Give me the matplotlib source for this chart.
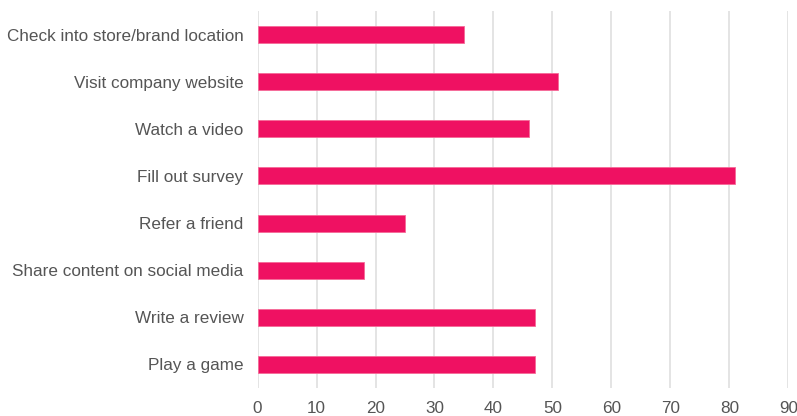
import matplotlib
matplotlib.use("Agg")
import matplotlib.pyplot as plt

categories = ["Check into store/brand location", "Visit company website", "Watch a video",
              "Fill out survey", "Refer a friend", "Share content on social media",
              "Write a review", "Play a game"]
values = [35, 51, 46, 81, 25, 18, 47, 47]
xticks = [0, 10, 20, 30, 40, 50, 60, 70, 80, 90]

plt.rcParams['font.family'] = ['Liberation Sans', 'DejaVu Sans']

fig = plt.figure(figsize=(7.97, 4.16), dpi=100)
ax = fig.add_axes([0.3231, 0.0673, 0.6662, 0.9063])

y = list(range(len(categories)))
ax.barh(y, values, height=0.36, color="#EF1162", edgecolor="#F56A98", linewidth=0.6, zorder=3)
ax.set_ylim(len(categories) - 0.5, -0.5)
ax.set_xlim(0, 90)
ax.set_xticks(xticks)
ax.set_xticklabels([str(t) for t in xticks])
ax.set_yticks(y)
ax.set_yticklabels(categories)
ax.grid(axis="x", color="#E2E2E2", linewidth=1.3, zorder=0)
ax.grid(axis="y", visible=False)
for s in ax.spines.values():
    s.set_visible(False)
ax.tick_params(axis="both", length=0, labelsize=12.3, labelcolor="#555555")
ax.tick_params(axis="y", pad=10)
ax.tick_params(axis="x", pad=9)
for lbl in ax.get_xticklabels():
    lbl.set_clip_on(False)

fig.savefig("out.png", dpi=100)
